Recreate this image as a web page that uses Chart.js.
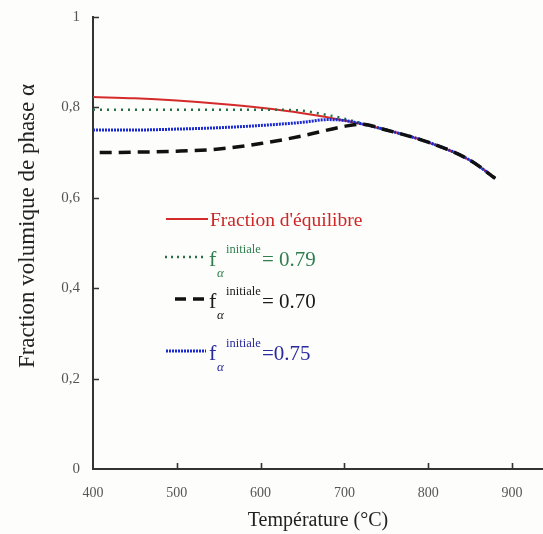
<!DOCTYPE html>
<html>
<head>
<meta charset="utf-8">
<script src="https://cdn.jsdelivr.net/npm/chart.js@4/dist/chart.umd.min.js"></script>
<style>
html,body{margin:0;padding:0;background:#fdfdfb;}
#wrap{width:543px;height:534px;position:relative;}
</style>
</head>
<body>
<div id="wrap"><canvas id="c" width="543" height="534"></canvas></div>
<script>
// ---- data ----
const xTicks = [400, 500, 600, 700, 800, 900];
const yTickLabels = ['0', '0,2', '0,4', '0,6', '0,8', '1'];

const equilT = [400, 450, 500, 550, 600, 650, 700, 750, 800, 850, 880];
const equilV = [0.823, 0.820, 0.815, 0.808, 0.799, 0.787, 0.771, 0.750, 0.723, 0.683, 0.643];

const f79T = [400, 450, 500, 550, 600, 640, 680, 700, 720, 750, 800, 850, 880];
const f79V = [0.795, 0.795, 0.795, 0.795, 0.795, 0.794, 0.783, 0.775, 0.765, 0.750, 0.723, 0.683, 0.643];

const f70T = [408, 450, 500, 550, 600, 650, 700, 720, 750, 800, 850, 880];
const f70V = [0.700, 0.701, 0.703, 0.708, 0.720, 0.737, 0.758, 0.763, 0.750, 0.723, 0.683, 0.643];

const f75T = [400, 450, 500, 550, 600, 650, 680, 700, 750, 800, 850, 880];
const f75V = [0.750, 0.750, 0.752, 0.755, 0.760, 0.767, 0.773, 0.771, 0.750, 0.723, 0.683, 0.643];

const pts = (t, v) => t.map((x, i) => ({x: x, y: v[i]}));

const SERIF = '"Liberation Serif", "DejaVu Serif", serif';

const tickMarks = {
  id: 'tickMarks',
  afterDraw(chart) {
    const ctx = chart.ctx, xs = chart.scales.x, ys = chart.scales.y;
    const a = chart.chartArea;
    ctx.save();
    ctx.strokeStyle = '#333';
    ctx.lineWidth = 1.6;
    ctx.beginPath();
    xTicks.forEach(t => {
      if (t === 400) return;
      const px = Math.round(xs.getPixelForValue(t)) + 0.5;
      ctx.moveTo(px, a.bottom); ctx.lineTo(px, a.bottom - 6);
    });
    [0.2, 0.4, 0.6, 0.8, 1].forEach(v => {
      const py = Math.round(ys.getPixelForValue(v)) + 0.5;
      ctx.moveTo(a.left, py); ctx.lineTo(a.left + 6, py);
    });
    ctx.stroke();
    ctx.restore();
  }
};

const titles = {
  id: 'titles',
  afterDraw(chart) {
    const ctx = chart.ctx;
    ctx.save();
    ctx.fillStyle = '#222';
    ctx.font = '20px ' + SERIF;
    ctx.textAlign = 'center';
    ctx.textBaseline = 'middle';
    ctx.fillText('Température (°C)', 318, 521);
    ctx.font = '23px ' + SERIF;
    ctx.translate(28, 226);
    ctx.rotate(-Math.PI / 2);
    ctx.fillText('Fraction volumique de phase α', 0, 0);
    ctx.restore();
  }
};

const customLegend = {
  id: 'customLegend',
  afterDraw(chart) {
    const ctx = chart.ctx;
    ctx.save();
    ctx.textBaseline = 'alphabetic';
    ctx.textAlign = 'left';
    // row 1
    ctx.strokeStyle = '#d42a2a'; ctx.lineWidth = 2; ctx.setLineDash([]);
    ctx.beginPath(); ctx.moveTo(166, 219); ctx.lineTo(208, 219); ctx.stroke();
    ctx.fillStyle = '#cc2626'; ctx.font = '19.5px ' + SERIF;
    ctx.fillText("Fraction d'équilibre", 210, 226);

    function fRow(lineY, base, color, lineColor, dash, lw, x0, x1, valText) {
      ctx.strokeStyle = lineColor; ctx.lineWidth = lw; ctx.setLineDash(dash);
      ctx.beginPath(); ctx.moveTo(x0, lineY); ctx.lineTo(x1, lineY); ctx.stroke();
      ctx.setLineDash([]);
      ctx.fillStyle = color;
      ctx.font = '22px ' + SERIF;
      ctx.fillText('f', 209, base);
      ctx.font = 'italic 13px ' + SERIF;
      ctx.fillText('α', 217, base + 11);
      ctx.font = '12.5px ' + SERIF;
      ctx.fillText('initiale', 226, base - 13);
      ctx.font = '21px ' + SERIF;
      ctx.fillText(valText, 262, base);
    }
    fRow(257, 266, '#2f7f4f', '#2a6e46', [2, 4], 2.5, 165, 206, '= 0.79');
    fRow(299, 308, '#1a1a1a', '#111', [11, 7], 3.5, 175, 206, '= 0.70');
    fRow(351, 360, '#2a2aa0', '#1a2ad0', [2, 1], 3, 166, 206, '=0.75');
    ctx.restore();
  }
};

new Chart(document.getElementById('c'), {
  type: 'line',
  data: {
    datasets: [
      { label: 'f70', data: pts(f70T, f70V), borderColor: '#111', borderWidth: 3.5, borderDash: [12, 7], order: 0 },
      { label: 'f75', data: pts(f75T, f75V), borderColor: '#1a2ad0', borderWidth: 3, borderDash: [2, 1], order: 1 },
      { label: 'f79', data: pts(f79T, f79V), borderColor: '#2a6e46', borderWidth: 2.5, borderDash: [2, 5], order: 2 },
      { label: 'equil', data: pts(equilT, equilV), borderColor: '#d42a2a', borderWidth: 2, order: 3 }
    ]
  },
  options: {
    responsive: false,
    animation: false,
    devicePixelRatio: 1,
    parsing: true,
    elements: { point: { radius: 0 }, line: { cubicInterpolationMode: 'monotone', fill: false } },
    layout: { padding: { top: 17, right: 0, left: 0, bottom: 0 } },
    plugins: { legend: { display: false }, tooltip: { enabled: false } },
    scales: {
      x: {
        type: 'linear', min: 400, max: 937,
        afterBuildTicks: s => { s.ticks = xTicks.map(v => ({value: v})); },
        afterFit: s => { s.height = 65; s.paddingLeft = 0; s.paddingRight = 0; },
        grid: { display: false, drawTicks: false },
        border: { display: true, color: '#333', width: 2 },
        ticks: { color: '#555', font: { family: SERIF, size: 14 }, padding: 16, maxRotation: 0 }
      },
      y: {
        min: 0, max: 1,
        afterBuildTicks: s => { s.ticks = [0, 0.2, 0.4, 0.6, 0.8, 1].map(v => ({value: v})); },
        afterFit: s => { s.width = 93; s.paddingTop = 0; s.paddingBottom = 0; },
        grid: { display: false, drawTicks: false },
        border: { display: true, color: '#333', width: 2 },
        ticks: { color: '#555', font: { family: SERIF, size: 15 }, padding: 13,
                 callback: (v, i) => yTickLabels[i] }
      }
    }
  },
  plugins: [tickMarks, titles, customLegend]
});
</script>
</body>
</html>
